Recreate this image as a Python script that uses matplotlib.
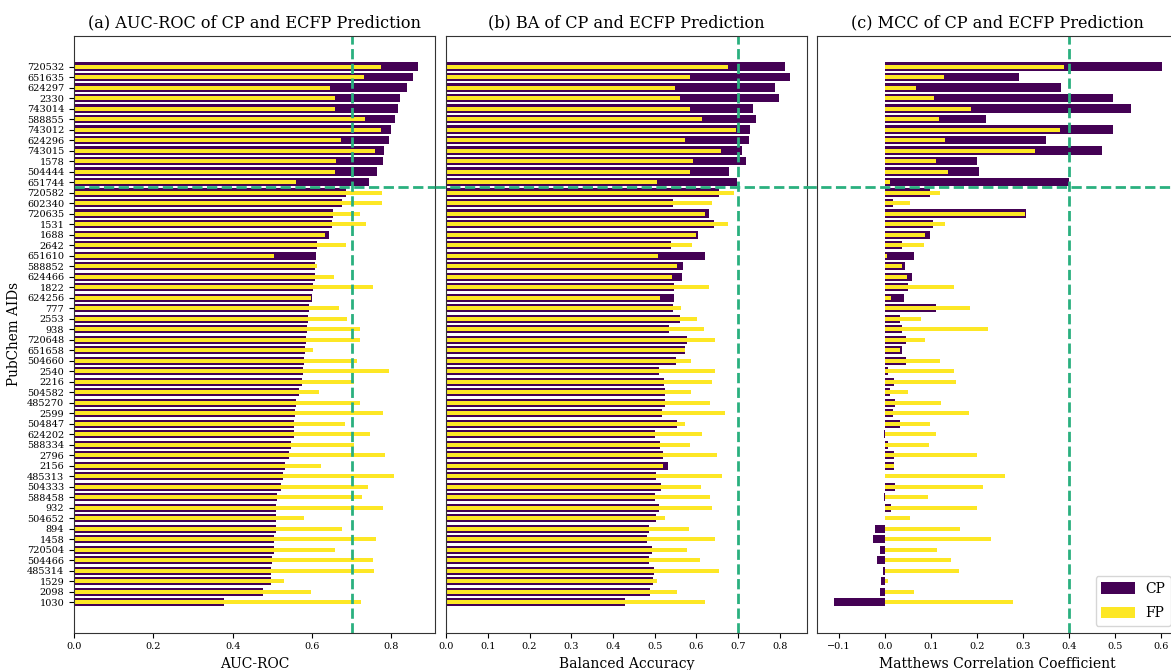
import numpy as np
import matplotlib
matplotlib.use("Agg")
import matplotlib.pyplot as plt

# PubChem assay IDs, top to bottom (sorted by CP AUC-ROC)
aids = ["720532", "651635", "624297", "2330", "743014", "588855", "743012", "624296",
        "743015", "1578", "504444", "651744", "720582", "602340", "720635", "1531",
        "1688", "2642", "651610", "588852", "624466", "1822", "624256", "777",
        "2553", "938", "720648", "651658", "504660", "2540", "2216", "504582",
        "485270", "2599", "504847", "624202", "588334", "2796", "2156", "485313",
        "504333", "588458", "932", "504652", "894", "1458", "720504", "504466",
        "485314", "1529", "2098", "1030"]

auc_cp = [0.867, 0.854, 0.839, 0.821, 0.816, 0.809, 0.799, 0.794, 0.781, 0.778, 0.763, 0.743,
          0.685, 0.675, 0.652, 0.650, 0.642, 0.612, 0.610, 0.607, 0.607, 0.602, 0.599, 0.592,
          0.589, 0.587, 0.584, 0.582, 0.579, 0.577, 0.574, 0.567, 0.559, 0.557, 0.554, 0.554,
          0.546, 0.541, 0.531, 0.526, 0.521, 0.511, 0.509, 0.509, 0.509, 0.504, 0.504, 0.499,
          0.496, 0.496, 0.476, 0.377]
auc_fp = [0.773, 0.731, 0.645, 0.657, 0.657, 0.733, 0.773, 0.673, 0.758, 0.660, 0.657, 0.559,
          0.776, 0.776, 0.720, 0.736, 0.632, 0.685, 0.504, 0.612, 0.655, 0.753, 0.597, 0.668,
          0.688, 0.720, 0.720, 0.602, 0.713, 0.794, 0.705, 0.617, 0.720, 0.778, 0.683, 0.746,
          0.705, 0.784, 0.622, 0.806, 0.741, 0.726, 0.778, 0.579, 0.675, 0.761, 0.657, 0.753,
          0.756, 0.529, 0.597, 0.723]

ba_cp = [0.812, 0.824, 0.788, 0.798, 0.735, 0.743, 0.728, 0.726, 0.709, 0.719, 0.678, 0.697,
         0.654, 0.544, 0.630, 0.642, 0.603, 0.539, 0.620, 0.568, 0.565, 0.546, 0.546, 0.544,
         0.560, 0.534, 0.577, 0.572, 0.551, 0.510, 0.522, 0.524, 0.524, 0.517, 0.553, 0.500,
         0.512, 0.520, 0.532, 0.503, 0.515, 0.500, 0.510, 0.503, 0.486, 0.481, 0.493, 0.486,
         0.498, 0.496, 0.488, 0.428]
ba_fp = [0.675, 0.584, 0.548, 0.560, 0.584, 0.613, 0.695, 0.572, 0.659, 0.592, 0.584, 0.505,
         0.690, 0.637, 0.620, 0.675, 0.599, 0.589, 0.508, 0.553, 0.541, 0.630, 0.512, 0.563,
         0.601, 0.618, 0.644, 0.572, 0.587, 0.644, 0.637, 0.587, 0.632, 0.668, 0.572, 0.613,
         0.584, 0.649, 0.520, 0.661, 0.611, 0.632, 0.637, 0.524, 0.582, 0.644, 0.577, 0.608,
         0.654, 0.505, 0.553, 0.620]

mcc_cp = [0.601, 0.291, 0.382, 0.495, 0.534, 0.219, 0.495, 0.349, 0.471, 0.201, 0.204, 0.399,
          0.099, 0.017, 0.306, 0.104, 0.097, 0.038, 0.064, 0.043, 0.058, 0.051, 0.041, 0.110,
          0.034, 0.038, 0.047, 0.038, 0.047, 0.008, 0.021, 0.012, 0.023, 0.017, 0.032, -0.001,
          0.008, 0.021, 0.021, 0.001, 0.023, -0.001, 0.014, 0.001, -0.022, -0.026, -0.011, -0.017,
          -0.004, -0.009, -0.011, -0.111]
mcc_fp = [0.388, 0.128, 0.067, 0.106, 0.186, 0.117, 0.380, 0.130, 0.325, 0.110, 0.138, 0.012,
          0.119, 0.054, 0.304, 0.130, 0.088, 0.086, 0.004, 0.038, 0.049, 0.151, 0.014, 0.184,
          0.078, 0.223, 0.088, 0.032, 0.119, 0.151, 0.154, 0.051, 0.123, 0.182, 0.099, 0.110,
          0.095, 0.201, 0.021, 0.260, 0.214, 0.093, 0.201, 0.054, 0.164, 0.230, 0.114, 0.143,
          0.162, 0.006, 0.064, 0.278]

panels = [
    ("(a) AUC-ROC of CP and ECFP Prediction", "AUC-ROC", auc_cp, auc_fp, 0.7, (0, 0.91)),
    ("(b) BA of CP and ECFP Prediction", "Balanced Accuracy", ba_cp, ba_fp, 0.7, (0, 0.865)),
    ("(c) MCC of CP and ECFP Prediction", "Matthews Correlation Coefficient", mcc_cp, mcc_fp, 0.4, (-0.147, 0.636)),
]
n_top = 12  # assays above the horizontal cut line

CP_COLOR = "#440154"
FP_COLOR = "#fde725"
LINE_COLOR = "#2ab07f"

plt.rcParams["font.family"] = ["DejaVu Serif"]
plt.rcParams["axes.edgecolor"] = "0.2"

fig = plt.figure(figsize=(11.71, 6.70), dpi=100)
lefts = [0.0632, 0.3809, 0.6977]
y = np.arange(len(aids))[::-1]

for k, (title, xlabel, cp, fp, thr, xlim) in enumerate(panels):
    ax = fig.add_axes([lefts[k], 0.0557, 0.3083, 0.891])
    ax.barh(y, cp, height=0.8, color=CP_COLOR, label="CP")
    ax.barh(y, fp, height=0.4, color=FP_COLOR, label="FP")
    ax.axvline(thr, color=LINE_COLOR, ls="--", lw=2)
    cut = len(aids) - n_top - 0.5
    ax.axhline(cut, xmin=0 if k == 0 else -0.03, xmax=1, color=LINE_COLOR, ls="--", lw=2,
               clip_on=False)
    ax.set_xlim(*xlim)
    ax.set_ylim(-2.9, 53.95)
    ax.set_title(title, fontsize=11.6)
    ax.set_xlabel(xlabel, fontsize=10)
    ax.tick_params(axis="x", labelsize=7)
    if k == 0:
        ax.set_yticks(y)
        ax.set_yticklabels(aids, fontsize=7)
        ax.set_ylabel("PubChem AIDs", fontsize=9.8)
    else:
        ax.set_yticks([])
    if k == 2:
        ax.legend(loc="lower right", fontsize=10, handlelength=2.4, handleheight=0.9,
                  labelspacing=0.75)

fig.savefig("out.png", dpi=100)
